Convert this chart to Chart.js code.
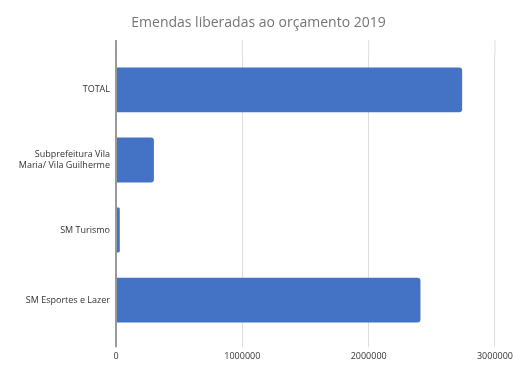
<!DOCTYPE html>
<html>
<head>
<meta charset="utf-8">
<script src="https://cdn.jsdelivr.net/npm/chart.js@4"></script>
<style>
  html, body { margin: 0; padding: 0; background: #fff; overflow: hidden; }
  #wrap { width: 517px; height: 378px; }
</style>
</head>
<body>
<div id="wrap"><canvas id="chart"></canvas></div>
<script>
const categories = ['TOTAL', ['Subprefeitura Vila', 'Maria/ Vila Guilherme'], 'SM Turismo', 'SM Esportes e Lazer'];
const values = [2740000, 300000, 30000, 2410000];
const xTicks = [0, 1000000, 2000000, 3000000];

// grid lines run a bit above the bars, like the spreadsheet chart
const gridTop = {
    id: 'gridTop',
    beforeDatasetsDraw(chart) {
        const x = chart.scales.x;
        const ctx = chart.ctx;
        ctx.save();
        xTicks.forEach(v => {
            const px = x.getPixelForValue(v);
            ctx.strokeStyle = v === 0 ? '#999' : '#ddd';
            ctx.lineWidth = v === 0 ? 2 : 1;
            ctx.beginPath();
            ctx.moveTo(px, 40);
            ctx.lineTo(px, chart.chartArea.top);
            ctx.stroke();
        });
        ctx.restore();
    }
};

new Chart(document.getElementById('chart').getContext('2d'), {
    type: 'bar',
    data: {
        labels: categories,
        datasets: [{
            data: values,
            backgroundColor: '#4472C4',
            borderRadius: 3,
            categoryPercentage: 0.64,
            barPercentage: 1
        }]
    },
    options: {
        indexAxis: 'y',
        responsive: true,
        maintainAspectRatio: false,
        animation: false,
        layout: { padding: { bottom: 12 } },
        plugins: {
            legend: { display: false },
            tooltip: { enabled: false },
            title: {
                display: true,
                text: 'Emendas liberadas ao orçamento 2019',
                color: '#757575',
                font: { family: "'Open Sans', sans-serif", size: 14, weight: 'normal' },
                padding: { top: 15, bottom: 23 }
            }
        },
        scales: {
            x: {
                min: 0,
                max: 3000000,
                afterBuildTicks: s => { s.ticks = xTicks.map(v => ({ value: v })); },
                grid: {
                    color: c => (c.tick && c.tick.value === 0) ? '#999' : '#ddd',
                    lineWidth: c => (c.tick && c.tick.value === 0) ? 2 : 1,
                    tickLength: 12
                },
                border: { display: false },
                ticks: {
                    color: '#333',
                    padding: 4,
                    maxRotation: 0,
                    callback: v => String(v),
                    font: { family: "'Open Sans', sans-serif", size: 9 }
                }
            },
            y: {
                afterFit: s => { s.width = 116; },
                grid: { display: false, drawTicks: false },
                border: { color: '#999', width: 2 },
                ticks: {
                    color: '#333',
                    padding: 6,
                    font: { family: "'Open Sans', sans-serif", size: 9 }
                }
            }
        }
    },
    plugins: [gridTop]
});
</script>
</body>
</html>
